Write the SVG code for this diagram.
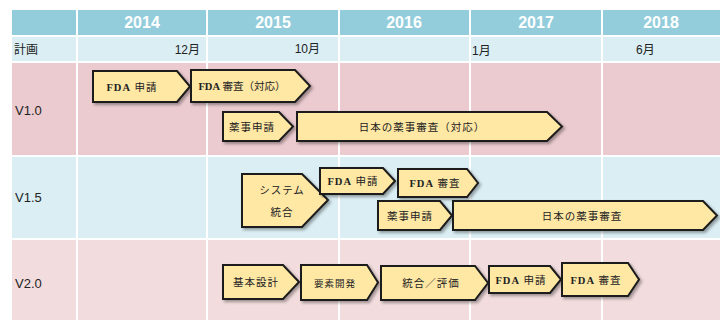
<svg xmlns="http://www.w3.org/2000/svg" width="720" height="320" viewBox="0 0 720 320">
<defs>
<style>
.hd{fill:#93CDDC}
.lb{fill:#DAEEF4}
.pk{fill:#EBCBCF}
.pk2{fill:#F2DCDD}
.yr{font-family:"Liberation Sans",Arial,sans-serif;font-size:16px;font-weight:bold;fill:#ffffff;text-anchor:middle}
.mo{font-family:"Liberation Sans","Noto Sans CJK JP",sans-serif;font-size:12px;fill:#222}
.rl{font-family:"Liberation Sans","Noto Sans CJK JP",sans-serif;font-size:13px;fill:#222}
.ar{fill:#FFE7A4;stroke:#1b1b1b;stroke-width:2;stroke-linejoin:miter;filter:url(#sh)}
.at{font-family:"Liberation Serif","Noto Sans CJK JP",serif;font-size:10.5px;fill:#222;text-anchor:middle;letter-spacing:1px}
.tight{letter-spacing:0}
.fd{font-weight:bold}
</style>
<filter id="sh" x="-10%" y="-20%" width="130%" height="160%">
<feDropShadow dx="2" dy="2" stdDeviation="1.5" flood-color="#000" flood-opacity="0.35"/>
</filter>
</defs>
<rect width="720" height="320" fill="#ffffff"/>
<g id="grid">
<rect class="hd" x="12" y="10" width="64" height="25"/>
<rect class="hd" x="78" y="10" width="128" height="25"/>
<rect class="hd" x="208" y="10" width="130" height="25"/>
<rect class="hd" x="340" y="10" width="129" height="25"/>
<rect class="hd" x="471" y="10" width="130" height="25"/>
<rect class="hd" x="603" y="10" width="117" height="25"/>
<rect class="lb" x="12" y="37" width="64" height="24"/>
<rect class="lb" x="78" y="37" width="128" height="24"/>
<rect class="lb" x="208" y="37" width="130" height="24"/>
<rect class="lb" x="340" y="37" width="129" height="24"/>
<rect class="lb" x="471" y="37" width="130" height="24"/>
<rect class="lb" x="603" y="37" width="117" height="24"/>
<rect class="pk" x="12" y="63" width="64" height="92"/>
<rect class="pk" x="78" y="63" width="128" height="92"/>
<rect class="pk" x="208" y="63" width="130" height="92"/>
<rect class="pk" x="340" y="63" width="129" height="92"/>
<rect class="pk" x="471" y="63" width="130" height="92"/>
<rect class="pk" x="603" y="63" width="117" height="92"/>
<rect class="lb" x="12" y="157" width="64" height="81"/>
<rect class="lb" x="78" y="157" width="128" height="81"/>
<rect class="lb" x="208" y="157" width="130" height="81"/>
<rect class="lb" x="340" y="157" width="129" height="81"/>
<rect class="lb" x="471" y="157" width="130" height="81"/>
<rect class="lb" x="603" y="157" width="117" height="81"/>
<rect class="pk2" x="12" y="240" width="64" height="80"/>
<rect class="pk2" x="78" y="240" width="128" height="80"/>
<rect class="pk2" x="208" y="240" width="130" height="80"/>
<rect class="pk2" x="340" y="240" width="129" height="80"/>
<rect class="pk2" x="471" y="240" width="130" height="80"/>
<rect class="pk2" x="603" y="240" width="117" height="80"/>
<text class="yr" x="142" y="28">2014</text>
<text class="yr" x="273" y="28">2015</text>
<text class="yr" x="404" y="28">2016</text>
<text class="yr" x="536" y="28">2017</text>
<text class="yr" x="661" y="28">2018</text>
<text class="mo" x="14" y="54">計画</text>
<text class="mo" x="200" y="54" text-anchor="end">12月</text>
<text class="mo" x="320" y="53" text-anchor="end">10月</text>
<text class="mo" x="472" y="55">1月</text>
<text class="mo" x="636" y="54">6月</text>
<text class="rl" x="15" y="115">V1.0</text>
<text class="rl" x="15" y="202">V1.5</text>
<text class="rl" x="15" y="288">V2.0</text>
</g>
<g id="n1"><polygon class="ar" points="93,71 177,71 190,86.5 177,102 93,102"/><text class="at" x="132" y="91"><tspan class="fd">FDA</tspan> 申請</text></g>
<g id="n2"><polygon class="ar" points="191,70 295,70 310,86 295,102 191,102"/><text class="at tight" x="242" y="90"><tspan class="fd">FDA</tspan> 審査（対応）</text></g>
<g id="n3"><polygon class="ar" points="223,112 279,112 293,126.5 279,141 223,141"/><text class="at" x="252" y="131">薬事申請</text></g>
<g id="n4"><polygon class="ar" points="297,112 547,112 562,126.5 547,141 297,141"/><text class="at" x="422" y="131">日本の薬事審査（対応）</text></g>
<g id="n5"><polygon class="ar" points="242,174 302,174 328,200 302,227 242,227"/><text class="at" x="282" y="194">システム</text><text class="at" x="282" y="216">統合</text></g>
<g id="n6"><polygon class="ar" points="320,168 383,168 395,181 383,194 320,194"/><text class="at" x="353" y="185"><tspan class="fd">FDA</tspan> 申請</text></g>
<g id="n7"><polygon class="ar" points="398,169 467,169 478,183 467,197 398,197"/><text class="at" x="435" y="187"><tspan class="fd">FDA</tspan> 審査</text></g>
<g id="n8"><polygon class="ar" points="378,201 440,201 452,215.5 440,230 378,230"/><text class="at" x="410" y="220">薬事申請</text></g>
<g id="n9"><polygon class="ar" points="453,201 703,201 717,215.5 703,230 453,230"/><text class="at" x="582" y="220">日本の薬事審査</text></g>
<g id="n10"><polygon class="ar" points="223,265 283,265 299,282 283,299 223,299"/><text class="at" x="256" y="286">基本設計</text></g>
<g id="n11"><polygon class="ar" points="301,265 367,265 378,282.5 367,300 301,300"/><text class="at" x="335" y="287" style="font-size:9.5px">要素開発</text></g>
<g id="n12"><polygon class="ar" points="381,266 475,266 488,283 475,300 381,300"/><text class="at" x="431" y="287">統合／評価</text></g>
<g id="n13"><polygon class="ar" points="489,266 550,266 561,279.5 550,293 489,293"/><text class="at" x="521" y="284"><tspan class="fd">FDA</tspan> 申請</text></g>
<g id="n14"><polygon class="ar" points="562,263 628,263 639,279.5 628,296 562,296"/><text class="at" x="596" y="284"><tspan class="fd">FDA</tspan> 審査</text></g>
<g id="connectors"></g>
</svg>
